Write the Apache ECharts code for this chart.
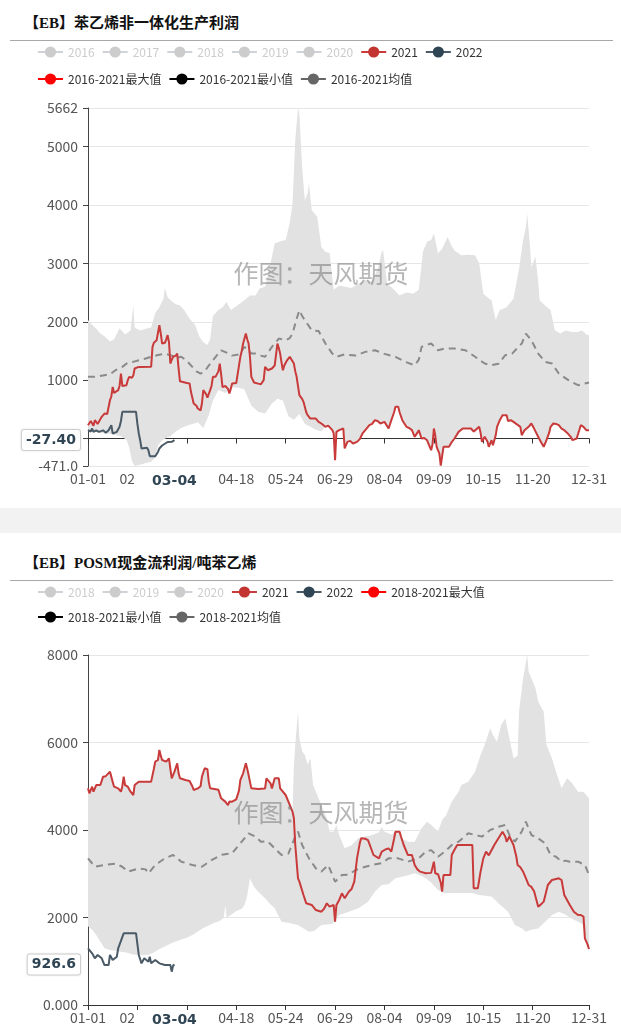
<!DOCTYPE html>
<html><head><meta charset="utf-8">
<script src="https://cdn.jsdelivr.net/npm/echarts@6/dist/echarts.min.js"></script>
<style>
html,body{margin:0;padding:0;background:#f2f2f2;}
#wrap{position:relative;width:621px;height:1035px;overflow:hidden;}
.card{position:absolute;left:0;width:621px;background:#fff;}
.title{position:absolute;left:24px;font-weight:bold;font-size:15px;line-height:20px;font-family:"Liberation Serif","Noto Sans CJK SC",serif;color:#111;white-space:nowrap;}
.rule{position:absolute;left:10px;width:603px;height:1px;background:#a8a8a8;}
.chart{position:absolute;left:0;width:621px;}
</style></head>
<body><div id="wrap">
<div class="card" style="top:0;height:508px"></div>
<div class="card" style="top:533px;height:502px"></div>
<div class="title" style="top:13px">【EB】苯乙烯非一体化生产利润</div>
<div class="rule" style="top:40px"></div>
<div class="title" style="top:553px">【EB】POSM现金流利润/吨苯乙烯</div>
<div class="rule" style="top:580px"></div>
<div id="c1" class="chart" style="top:0;height:508px"></div>
<div id="c2" class="chart" style="top:533px;height:502px"></div>
</div>
<script>
// ---------- categories (a leap-year calendar, MM-DD) ----------
const monthLengths = [31,29,31,30,31,30,31,31,30,31,30,31];
const dates = [];
monthLengths.forEach((n, m) => { for (let d = 1; d <= n; d++) dates.push(String(m + 1).padStart(2, '0') + '-' + String(d).padStart(2, '0')); });

// ---------- chart 1 : 苯乙烯非一体化生产利润 ----------  [dayIndex, value]
const max1 = [[0,2030],[3,1950],[6,1880],[9,1800],[12,1750],[16,1660],[19,1700],[23,1890],[27,1780],[31,1850],[33,2280],[34,1900],[38,1850],[42,1880],[46,1900],[49,2150],[52,2250],[55,2400],[56,2580],[58,2420],[61,2350],[64,2300],[67,2280],[70,2200],[74,2050],[78,1950],[81,1750],[84,1650],[87,1600],[89,1700],[91,2100],[95,2200],[98,2250],[101,2340],[104,2200],[107,2250],[110,2300],[113,2350],[118,2450],[122,2450],[125,2570],[129,2600],[133,3000],[136,3340],[140,3380],[144,3400],[147,3700],[149,4020],[151,5110],[153,5662],[154,5560],[156,4650],[158,4080],[160,4200],[161,4370],[163,3910],[167,3800],[170,3280],[173,3200],[176,3180],[179,2550],[183,2620],[187,2600],[192,2580],[197,2650],[202,2710],[207,2700],[211,2900],[214,3200],[215,3220],[218,2650],[223,2550],[227,2450],[232,2500],[237,2480],[241,2550],[244,3200],[247,3370],[250,3400],[252,3510],[255,3170],[258,3250],[262,3450],[265,3300],[267,3220],[272,3140],[277,3150],[282,3140],[285,3000],[288,2480],[292,2400],[294,2370],[297,2030],[300,2200],[305,2250],[310,2400],[314,2900],[317,3400],[319,3620],[320,3850],[322,3300],[323,2940],[326,3110],[328,2700],[329,2370],[333,2280],[337,2200],[340,1860],[344,1800],[348,1850],[352,1830],[356,1820],[360,1850],[363,1780],[365,1770]];
const min1 = [[0,150],[4,120],[8,100],[12,90],[16,80],[20,60],[24,40],[28,-20],[30,-150],[32,-380],[34,-471],[38,-450],[42,-420],[46,-400],[49,-330],[51,-120],[54,-30],[58,20],[60,40],[64,120],[68,180],[72,220],[76,250],[80,280],[84,180],[88,400],[91,650],[95,830],[100,780],[105,880],[110,870],[114,840],[119,560],[124,460],[129,430],[134,600],[138,680],[142,650],[146,380],[150,320],[154,420],[158,250],[162,200],[166,150],[170,120],[173,200],[175,220],[178,143],[179,86],[180,-371],[181,114],[183,143],[186,171],[187,-171],[189,-57],[191,-40],[193,-86],[196,-57],[198,-10],[200,86],[202,143],[205,228],[207,250],[209,314],[211,300],[213,257],[216,285],[219,171],[221,314],[223,450],[224,542],[226,542],[227,450],[229,314],[232,200],[234,180],[236,143],[238,29],[240,100],[241,143],[243,0],[245,10],[247,-29],[248,-86],[250,-200],[251,-100],[252,171],[253,50],[254,-143],[256,-257],[257,-465],[258,-300],[259,-143],[263,-143],[265,-60],[267,0],[270,114],[273,171],[276,171],[279,171],[281,120],[282,86],[285,200],[286,100],[287,-57],[289,29],[291,-50],[292,-143],[294,-29],[295,-114],[297,50],[298,200],[300,314],[302,400],[303,428],[305,400],[306,300],[308,314],[310,285],[312,250],[313,228],[315,200],[316,57],[318,140],[319,143],[321,200],[322,228],[323,257],[325,170],[326,143],[328,29],[330,-60],[332,-143],[334,-29],[336,100],[337,200],[339,257],[341,250],[343,228],[345,171],[347,143],[349,100],[350,86],[352,20],[353,-29],[356,0],[358,150],[359,228],[361,200],[363,143],[365,143]];
const mean1 = [[0,1056],[5,1056],[12,1085],[16,1100],[20,1170],[25,1227],[29,1300],[33,1313],[37,1340],[42,1370],[46,1400],[51,1430],[56,1455],[61,1420],[64,1380],[68,1400],[72,1330],[76,1227],[79,1150],[82,1113],[85,1150],[88,1250],[93,1400],[97,1510],[101,1470],[105,1420],[110,1440],[114,1570],[119,1455],[122,1455],[126,1420],[129,1400],[134,1570],[139,1712],[144,1684],[147,1720],[149,1798],[152,2050],[154,2197],[156,2100],[158,2026],[163,1855],[168,1840],[173,1627],[178,1455],[181,1400],[187,1440],[195,1420],[202,1484],[209,1512],[216,1450],[224,1400],[231,1313],[238,1255],[241,1350],[243,1570],[246,1598],[250,1627],[255,1512],[260,1541],[267,1540],[275,1512],[282,1400],[289,1284],[294,1255],[299,1280],[304,1427],[309,1455],[316,1627],[319,1798],[323,1684],[328,1455],[333,1313],[338,1284],[343,1113],[350,1000],[357,913],[362,942],[365,960]];
const y2021_1 = [[0,228],[2,300],[3,285],[4,220],[5,314],[7,250],[8,260],[10,371],[12,428],[14,420],[15,450],[16,656],[17,720],[18,885],[19,780],[20,770],[22,828],[23,900],[24,1113],[25,900],[26,880],[28,913],[29,1000],[30,1056],[32,1040],[33,1080],[34,1199],[36,1220],[38,1227],[46,1230],[47,1570],[48,1640],[50,1684],[51,1700],[52,1940],[53,1800],[54,1627],[56,1640],[57,1700],[58,1770],[59,1650],[60,1284],[61,1350],[62,1400],[64,1420],[65,1455],[66,1200],[67,980],[68,953],[72,950],[74,942],[75,800],[77,600],[79,560],[80,514],[82,480],[83,600],[84,828],[86,760],[87,700],[89,828],[90,900],[91,1056],[93,1060],[94,1040],[95,1150],[96,1284],[97,1100],[98,880],[100,900],[101,913],[102,850],[103,770],[104,850],[105,942],[108,950],[109,1100],[111,1400],[112,1500],[113,1627],[114,1650],[115,1798],[116,1700],[117,1627],[118,1400],[119,1056],[121,960],[124,940],[126,930],[128,1000],[129,1227],[131,1170],[134,1200],[136,1250],[138,1627],[139,1550],[140,1455],[141,1300],[142,1170],[143,1250],[145,1340],[147,1400],[148,1380],[150,1284],[151,1150],[152,1056],[154,742],[156,680],[157,628],[159,450],[160,400],[162,342],[166,342],[168,285],[170,257],[173,200],[175,220],[178,143],[179,86],[180,-371],[181,114],[183,143],[186,171],[187,-171],[189,-57],[191,-40],[193,-86],[196,-57],[198,-10],[200,86],[202,143],[205,228],[207,250],[209,314],[211,300],[213,257],[216,285],[219,171],[221,314],[223,450],[224,542],[226,542],[227,450],[229,314],[232,200],[234,180],[236,143],[238,29],[240,100],[241,143],[243,0],[245,10],[247,-29],[248,-86],[250,-200],[251,-100],[252,171],[253,50],[254,-143],[256,-257],[257,-465],[258,-300],[259,-143],[263,-143],[265,-60],[267,0],[270,114],[273,171],[276,171],[279,171],[281,120],[282,86],[285,200],[286,100],[287,-57],[289,29],[291,-50],[292,-143],[294,-29],[295,-114],[297,50],[298,200],[300,314],[302,400],[303,428],[305,400],[306,300],[308,314],[310,285],[312,250],[313,228],[315,200],[316,57],[318,140],[319,143],[321,200],[322,228],[323,257],[325,170],[326,143],[328,29],[330,-60],[332,-143],[334,-29],[336,100],[337,200],[339,257],[341,250],[343,228],[345,171],[347,143],[349,100],[350,86],[352,20],[353,-29],[356,0],[358,150],[359,228],[361,200],[363,143],[365,143]];
const y2022_1 = [[0,143],[1,110],[2,120],[3,171],[4,114],[6,140],[8,114],[9,114],[11,140],[13,100],[14,97],[15,140],[16,130],[17,228],[18,86],[19,100],[21,114],[23,200],[24,300],[25,457],[35,457],[36,250],[37,86],[38,-29],[39,-171],[43,-160],[44,-200],[45,-302],[49,-302],[51,-230],[52,-171],[54,-120],[55,-86],[58,-60],[61,-57],[63,-27.40]];

// ---------- chart 2 : POSM现金流利润/吨苯乙烯 ----------
const max2 = [[0,4952],[1,4838],[3,4990],[4,4876],[6,5028],[9,5028],[11,5219],[13,5230],[14,5196],[16,5333],[17,5300],[18,5100],[19,4990],[22,4952],[24,4876],[25,5000],[26,5219],[27,5028],[29,4990],[31,4876],[33,4800],[34,5028],[37,5105],[46,5105],[48,5400],[49,5562],[51,5600],[52,5829],[53,5700],[54,5600],[57,5562],[59,5638],[60,5400],[61,5181],[63,5333],[65,5524],[66,5300],[67,5181],[71,5143],[74,5120],[76,5000],[77,4914],[80,4950],[82,5000],[83,5219],[85,5410],[87,5390],[88,5100],[89,4952],[95,4920],[97,4724],[100,4648],[102,4571],[103,4650],[105,4648],[108,4700],[110,4900],[111,5143],[113,5295],[115,5524],[116,5400],[117,5257],[118,5100],[119,4952],[124,4937],[129,4950],[130,5181],[133,5067],[134,4950],[136,5181],[139,5181],[140,4950],[144,4800],[146,4650],[149,4419],[150,5486],[151,5943],[153,6705],[154,6095],[156,5800],[158,5714],[160,5500],[162,5638],[164,5029],[167,4800],[170,4571],[174,4267],[176,3962],[179,3962],[181,4114],[183,3880],[187,3581],[192,3650],[197,3820],[202,3850],[207,3886],[212,3950],[214,4076],[216,3962],[221,3900],[224,3962],[227,3962],[229,3800],[233,3733],[238,3733],[243,4038],[247,4190],[250,4120],[255,3962],[258,4229],[261,4343],[265,4648],[270,4876],[272,5029],[277,5105],[282,5333],[286,5714],[289,5943],[293,6324],[295,6171],[298,6019],[301,6400],[304,6552],[307,6095],[310,5638],[313,5700],[314,6705],[317,7467],[320,8000],[321,7619],[323,7467],[326,7238],[328,6933],[332,6705],[334,5943],[338,5638],[341,5333],[345,4952],[349,5181],[352,5100],[357,4876],[361,4876],[365,4724]];
const min2 = [[0,1800],[3,1720],[6,1600],[9,1450],[12,1300],[16,1260],[20,1240],[24,1220],[28,1200],[32,1160],[36,1143],[40,1140],[44,1150],[48,1200],[52,1280],[56,1340],[60,1400],[64,1450],[68,1500],[72,1540],[76,1600],[80,1680],[84,1760],[88,1820],[92,1880],[96,1920],[99,2000],[100,2286],[101,2000],[104,2057],[108,2150],[112,2200],[114,2286],[116,2500],[118,2895],[121,2700],[124,2590],[129,2438],[133,2300],[136,2210],[141,1905],[146,1880],[153,1829],[157,1750],[161,1676],[165,1700],[170,1829],[178,1850],[183,2057],[190,2133],[197,2210],[204,2362],[209,2590],[214,2743],[219,2760],[224,2895],[231,2950],[238,3010],[243,2950],[246,2895],[250,2800],[255,2629],[260,2552],[270,2560],[280,2560],[285,2514],[289,2500],[294,2480],[299,2324],[306,2133],[311,1829],[316,1752],[319,1676],[323,1720],[328,1750],[333,1905],[338,2057],[343,2133],[347,2080],[352,1981],[357,1905],[361,1829],[362,1524],[364,1380],[365,1280]];
const mean2 = [[0,3352],[5,3162],[12,3200],[20,3230],[25,3160],[29,3048],[37,3124],[42,3100],[44,3010],[49,3200],[56,3352],[62,3429],[68,3276],[76,3200],[83,3160],[90,3314],[97,3430],[105,3467],[112,3733],[117,3924],[122,3848],[126,3733],[131,3740],[136,3581],[141,3429],[146,3460],[151,3848],[153,3962],[156,3657],[161,3352],[166,3124],[170,3048],[175,3200],[180,2819],[185,2971],[190,2980],[195,3086],[202,3160],[207,3200],[214,3240],[219,3352],[226,3352],[233,3276],[241,3352],[246,3505],[250,3540],[255,3390],[260,3505],[265,3657],[270,3733],[277,3924],[282,3886],[287,3848],[293,4000],[299,4076],[304,4114],[307,3886],[311,3733],[316,3962],[319,4190],[323,3886],[328,3810],[333,3695],[337,3429],[341,3390],[345,3276],[348,3300],[351,3276],[357,3276],[362,3200],[365,2971]];
const y2021_2 = [[0,4952],[1,4838],[3,4990],[4,4876],[6,5028],[9,5028],[11,5219],[13,5230],[14,5196],[16,5333],[17,5300],[18,5100],[19,4990],[22,4952],[24,4876],[25,5000],[26,5219],[27,5028],[29,4990],[31,4876],[33,4800],[34,5028],[37,5105],[46,5105],[48,5400],[49,5562],[51,5600],[52,5829],[53,5700],[54,5600],[57,5562],[59,5638],[60,5400],[61,5181],[63,5333],[65,5524],[66,5300],[67,5181],[71,5143],[74,5120],[76,5000],[77,4914],[80,4950],[82,5000],[83,5219],[85,5410],[87,5390],[88,5100],[89,4952],[95,4920],[97,4724],[100,4648],[102,4571],[103,4650],[105,4648],[108,4700],[110,4900],[111,5143],[113,5295],[115,5524],[116,5400],[117,5257],[118,5100],[119,4952],[124,4937],[129,4950],[130,5181],[133,5067],[134,4950],[136,5181],[139,5181],[140,4950],[144,4800],[146,4650],[149,4419],[150,4267],[151,3657],[153,2895],[154,2819],[157,2514],[159,2324],[163,2286],[166,2171],[170,2133],[172,2200],[174,2324],[176,2250],[179,2286],[180,1905],[181,2286],[183,2400],[185,2552],[187,2440],[190,2590],[192,2650],[194,2819],[196,3352],[198,3700],[199,3810],[202,3800],[204,3770],[206,3600],[208,3429],[212,3352],[214,3505],[217,3560],[219,3581],[221,3505],[223,3800],[224,3962],[227,3962],[228,3850],[230,3657],[233,3429],[236,3429],[238,3200],[240,3100],[242,3048],[246,3010],[250,3020],[252,3276],[253,3010],[255,2990],[257,2800],[258,2590],[259,2971],[264,2971],[265,3429],[267,3550],[269,3657],[280,3657],[281,2667],[284,2667],[286,3048],[287,3200],[288,3352],[290,3505],[292,3420],[293,3480],[296,3657],[299,3810],[302,3962],[304,3850],[305,3730],[307,3850],[310,3657],[312,3400],[313,3200],[315,3150],[317,3048],[319,2900],[321,2743],[323,2700],[325,2600],[328,2248],[330,2300],[332,2362],[335,2743],[338,2857],[341,2880],[343,2895],[345,2857],[347,2514],[349,2400],[351,2286],[354,2133],[357,2057],[359,2057],[361,2020],[362,1524],[364,1380],[365,1280]];
const y2022_2 = [[0,1295],[1,1250],[3,1181],[5,1067],[7,1143],[8,1100],[10,1067],[12,914],[15,914],[16,1143],[18,1029],[19,1060],[21,1105],[22,1295],[23,1333],[26,1638],[35,1638],[37,1143],[39,952],[41,1067],[44,990],[45,1105],[46,952],[49,1029],[52,952],[56,914],[60,914],[61,762],[62,900],[63,926.6]];

// ---------- shared styling ----------
const FONT = 'Noto Sans CJK SC';
const C2021 = '#c23531', C2022 = '#2f4554', CMAX = '#ff0000', CMIN = '#000000', CMEAN = '#666666';
const BAND = '#e2e2e2';
const showTick = (i) => (i % 36 === 0 && i <= 324) || i === dates.length - 1;

function makeOption(c) {
  const last2022 = c.y2022[c.y2022.length - 1];
  const selected = {};
  c.hiddenYears.forEach(n => { selected[n] = false; });
  const legendData = c.hiddenYears.map(n => ({ name: n })).concat([
    { name: '2021' }, { name: '2022' },
    { name: c.maxName, itemStyle: { color: CMAX, opacity: 1 }, lineStyle: { color: CMAX, opacity: 1, width: 2, type: 'solid' } },
    { name: c.minName, itemStyle: { color: CMIN, opacity: 1 }, lineStyle: { color: CMIN, opacity: 1, width: 2, type: 'solid' } },
    { name: c.meanName, itemStyle: { color: CMEAN, opacity: 1 }, lineStyle: { color: CMEAN, opacity: 1, width: 2, type: 'solid' } }
  ]);
  const bandRender = function (params, api) {
    const pts = [];
    c.max.forEach(p => pts.push(api.coord(p)));
    for (let i = c.min.length - 1; i >= 0; i--) pts.push(api.coord(c.min[i]));
    return { type: 'polygon', shape: { points: pts }, style: { fill: BAND }, silent: true };
  };
  return {
    animation: false,
    textStyle: { fontFamily: FONT },
    grid: { left: 88, top: c.gridTop, width: 501, height: c.gridHeight, containLabel: false },
    legend: {
      data: legendData, selected: selected, left: 32, top: c.legendTop, width: 550,
      itemWidth: 25, itemHeight: 14, itemGap: 7, inactiveColor: '#cccccc',
      textStyle: { fontSize: 12, color: '#333', fontFamily: FONT, lineHeight: c.legendLineHeight }
    },
    graphic: [{
      type: 'text', x: 321, y: c.markY, z: 100, silent: true,
      style: { text: '作图：天风期货', fontSize: 25, fontFamily: FONT, fill: 'rgba(110,110,110,0.5)', align: 'center', verticalAlign: 'middle' }
    }],
    xAxis: {
      type: 'category', data: dates, boundaryGap: false,
      axisLine: { onZero: true, lineStyle: { color: '#333', width: 1 } },
      axisTick: { show: true, interval: showTick, length: 5, lineStyle: { color: '#333' } },
      axisLabel: { interval: showTick, color: '#555', fontSize: 14, margin: 6, fontFamily: FONT },
      splitLine: { show: false },
      axisPointer: {
        show: true, type: 'none', status: 'show', value: last2022[0], triggerTooltip: false,
        label: { show: true, fontWeight: 'bold', fontSize: 14, fontFamily: 'DejaVu Sans', color: C2022,
          backgroundColor: '#fff', padding: [3, 18], margin: 5, shadowBlur: 0, borderWidth: 0 }
      }
    },
    yAxis: {
      type: 'value', min: c.yMin, max: c.yMax,
      axisLine: { show: true, lineStyle: { color: '#444' } },
      axisTick: { show: true, length: 5, lineStyle: { color: '#444' } },
      axisLabel: { color: '#555', fontSize: 14, margin: 10, fontFamily: FONT, formatter: v => Number(v).toPrecision(4) },
      splitLine: { show: true, lineStyle: { color: '#e6e6e6' } },
      axisPointer: {
        show: true, type: 'none', status: 'show', value: last2022[1], triggerTooltip: false,
        label: { show: true, fontWeight: 'bold', fontSize: 14, fontFamily: 'DejaVu Sans', color: C2022,
          backgroundColor: '#fff', borderColor: '#d6d6d6', borderWidth: 1, borderRadius: 2, padding: [3, 4], margin: 8,
          shadowBlur: 2, shadowColor: 'rgba(0,0,0,0.12)',
          formatter: p => Number(p.value).toPrecision(4) }
      }
    },
    series: [
      { type: 'custom', name: 'band', renderItem: bandRender, data: [[0, 0]], encode: { x: 0, y: 1 }, z: 1, silent: true },
      ...c.hiddenYears.map(n => ({ name: n, type: 'line', data: [], symbol: 'circle', showSymbol: false, itemStyle: { color: '#999' } })),
      { name: '2021', type: 'line', data: c.y2021, symbol: 'circle', showSymbol: false, z: 4,
        itemStyle: { color: C2021 }, lineStyle: { color: '#c93a3a', width: 2 } },
      { name: '2022', type: 'line', data: c.y2022, symbol: 'circle', showSymbol: false, z: 5,
        itemStyle: { color: C2022 }, lineStyle: { color: '#4a5a66', width: 2 } },
      { name: c.maxName, type: 'line', data: c.max, symbol: 'circle', showSymbol: false, z: 2, silent: true,
        itemStyle: { color: CMAX }, lineStyle: { color: CMAX, opacity: 0 } },
      { name: c.minName, type: 'line', data: c.min, symbol: 'circle', showSymbol: false, z: 2, silent: true,
        itemStyle: { color: CMIN }, lineStyle: { color: CMIN, opacity: 0 } },
      { name: c.meanName, type: 'line', data: c.mean, symbol: 'circle', showSymbol: false, z: 3,
        itemStyle: { color: CMEAN }, lineStyle: { color: '#8a8a8a', width: 2, type: [7, 5] } }
    ]
  };
}

const chart1 = echarts.init(document.getElementById('c1'), null, { renderer: 'canvas' });
chart1.setOption(makeOption({
  hiddenYears: ['2016', '2017', '2018', '2019', '2020'],
  maxName: '2016-2021最大值', minName: '2016-2021最小值', meanName: '2016-2021均值',
  max: max1, min: min1, mean: mean1, y2021: y2021_1, y2022: y2022_1,
  yMin: 'dataMin', yMax: 'dataMax',
  gridTop: 108, gridHeight: 358, legendTop: 37, legendLineHeight: 20, markY: 273
}));

const chart2 = echarts.init(document.getElementById('c2'), null, { renderer: 'canvas' });
chart2.setOption(makeOption({
  hiddenYears: ['2018', '2019', '2020'],
  maxName: '2018-2021最大值', minName: '2018-2021最小值', meanName: '2018-2021均值',
  max: max2, min: min2, mean: mean2, y2021: y2021_2, y2022: y2022_2,
  yMin: 0, yMax: 'dataMax',
  gridTop: 122, gridHeight: 350, legendTop: 45, legendLineHeight: 18, markY: 279
}));
</script>
</body></html>
